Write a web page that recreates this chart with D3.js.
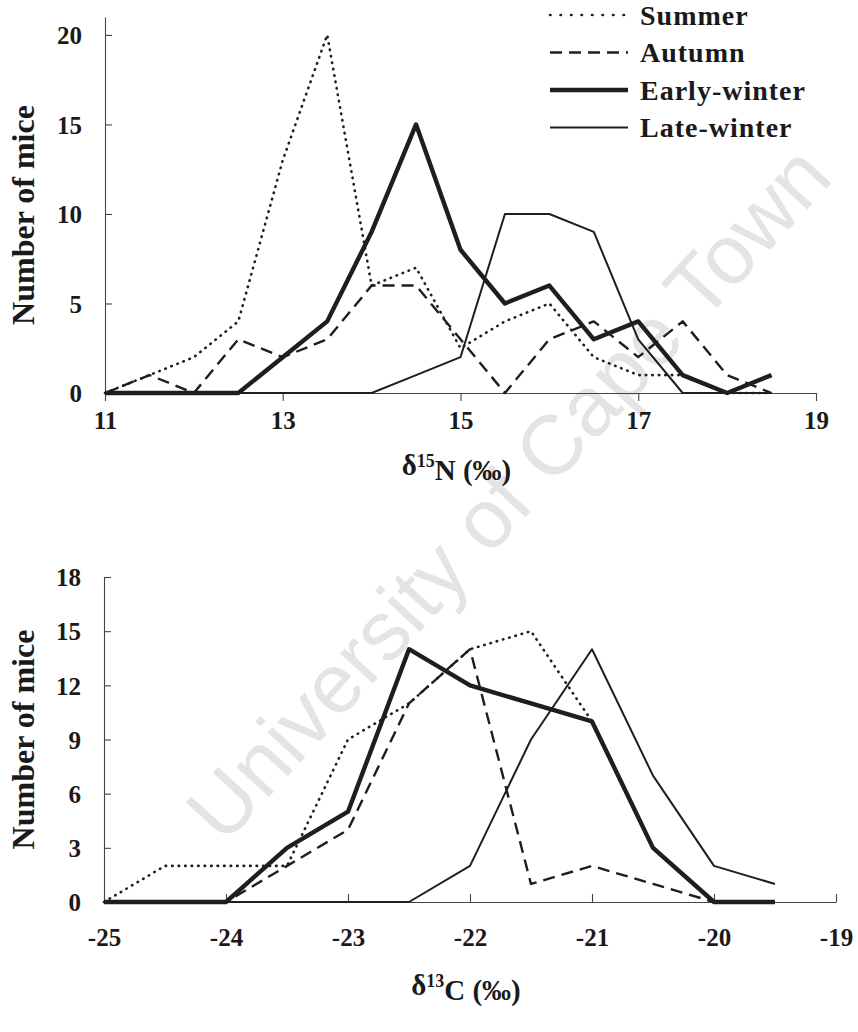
<!DOCTYPE html>
<html>
<head>
<meta charset="utf-8">
<script src="https://cdn.jsdelivr.net/npm/d3@7"></script>
<style>
  body { margin: 0; background: #fff; }
  svg text { font-family: "Liberation Serif", "Times New Roman", serif; font-weight: bold; fill: #1a1a1a; }
</style>
</head>
<body>
<script>
// δ15N panel (top)
var nX = [11, 11.5, 12, 12.5, 13, 13.5, 14, 14.5, 15, 15.5, 16, 16.5, 17, 17.5, 18, 18.5];
var nSummer = [0, 1, 2, 4, 13, 20, 6, 7, 2.5, 4, 5, 2, 1, 1, 0, 0];
var nAutumn = [0, 1, 0, 3, 2, 3, 6, 6, 3, 0, 3, 4, 2, 4, 1, 0];
var nEarly  = [0, 0, 0, 0, 2, 4, 9, 15, 8, 5, 6, 3, 4, 1, 0, 1];
var nLate   = [0, 0, 0, 0, 0, 0, 0, 1, 2, 10, 10, 9, 3, 0, 0, 0];
var nXTicks = [11, 13, 15, 17, 19];
var nYTicks = [0, 5, 10, 15, 20];

// δ13C panel (bottom)
var cX = [-25, -24.5, -24, -23.5, -23, -22.5, -22, -21.5, -21, -20.5, -20, -19.5];
var cSummer = [0, 2, 2, 2, 9, 11, 14, 15, 10, 3, 0, 0];
var cAutumn = [0, 0, 0, 2, 4, 11, 14, 1, 2, 1, 0, 0];
var cEarly  = [0, 0, 0, 3, 5, 14, 12, 11, 10, 3, 0, 0];
var cLate   = [0, 0, 0, 0, 0, 0, 2, 9, 14, 7, 2, 1];
var cXTicks = [-25, -24, -23, -22, -21, -20, -19];
var cYTicks = [0, 3, 6, 9, 12, 15, 18];

var seasons = ["Summer", "Autumn", "Early-winter", "Late-winter"];

// line look per season
var styles = {
  "Summer":       { w: 2.6, dash: "0.5 6", cap: "round" },
  "Autumn":       { w: 2.4, dash: "12 7", cap: "butt" },
  "Early-winter": { w: 4.4, dash: null, cap: "butt" },
  "Late-winter":  { w: 2, dash: null, cap: "butt" }
};

var svg = d3.select("body").append("svg")
    .attr("width", 858)
    .attr("height", 1032);

// watermark
svg.append("text")
    .attr("transform", "translate(224,846) rotate(-47.5)")
    .style("font-family", "'Liberation Sans', Arial, sans-serif")
    .style("font-weight", "normal")
    .style("font-size", "84px")
    .style("fill", "#e4e4e4")
    .text("University of Cape Town");

function drawPanel(opt) {
  var x = d3.scaleLinear().domain(opt.xDomain).range(opt.xRange);
  var y = d3.scaleLinear().domain(opt.yDomain).range(opt.yRange);
  var g = svg.append("g");

  // y axis, ticks pointing inward
  var yAxis = g.append("g")
      .attr("transform", "translate(" + opt.xRange[0] + ",0)")
      .call(d3.axisLeft(y).tickValues(opt.yTicks).tickSize(-7).tickSizeOuter(0).tickPadding(23));
  yAxis.selectAll("text").style("font-size", "25px").attr("dy", "0.35em");

  var xAxis = g.append("g")
      .attr("transform", "translate(0," + opt.yRange[0] + ")")
      .call(d3.axisBottom(x).tickValues(opt.xTicks).tickSize(opt.xTickLen).tickSizeOuter(0)
        .tickFormat(function(d) { return d < 0 ? "-" + Math.abs(d) : d; }));
  xAxis.selectAll("text").style("font-size", "25px").attr("y", opt.labelOff).attr("dy", "0.35em");

  g.selectAll(".domain, .tick line").attr("stroke", "#444").attr("stroke-width", 1.1);

  // axis titles
  g.append("text")
      .attr("transform", "translate(23," + ((opt.yRange[0] + opt.yRange[1]) / 2 + opt.yTitleShift) + ") rotate(-90)")
      .attr("text-anchor", "middle")
      .attr("dy", "0.35em")
      .style("font-size", "32px")
      .text("Number of mice");

  var t = g.append("text")
      .attr("x", (opt.xRange[0] + opt.xRange[1]) / 2 - 4)
      .attr("y", opt.yRange[0] + opt.titleOff)
      .attr("text-anchor", "middle")
      .attr("dy", "0.35em")
      .style("font-size", "29px");
  t.append("tspan").text("δ");
  t.append("tspan").attr("dy", "-0.45em").style("font-size", "18px").text(opt.iso);
  t.append("tspan").attr("dy", "0.45em").text(opt.elem + " (‰)");

  var line = d3.line()
      .x(function(d) { return x(d[0]); })
      .y(function(d) { return y(d[1]); });

  seasons.forEach(function(s, i) {
    var pts = opt.xs.map(function(v, j) { return [v, opt.series[i][j]]; });
    var st = styles[s];
    g.append("path")
        .datum(pts)
        .attr("d", line)
        .attr("fill", "none")
        .attr("stroke", "#1e1e1e")
        .attr("stroke-width", st.w)
        .attr("stroke-dasharray", st.dash)
        .attr("stroke-linecap", st.cap)
        .attr("stroke-linejoin", "round");
  });
}

drawPanel({
  xs: nX, series: [nSummer, nAutumn, nEarly, nLate],
  xDomain: [11, 19], xRange: [105, 816],
  yDomain: [0, 21], yRange: [393, 17],
  xTicks: nXTicks, yTicks: nYTicks, xTickLen: 8,
  labelOff: 27, titleOff: 72,
  iso: "15", elem: "N", yTitleShift: 10
});

drawPanel({
  xs: cX, series: [cSummer, cAutumn, cEarly, cLate],
  xDomain: [-25, -19], xRange: [104, 836],
  yDomain: [0, 18], yRange: [902, 577],
  xTicks: cXTicks, yTicks: cYTicks, xTickLen: -8,
  labelOff: 35, titleOff: 83,
  iso: "13", elem: "C", yTitleShift: 0
});

// legend
var legend = svg.append("g");
seasons.forEach(function(s, i) {
  var ly = 15 + i * 37.5;
  var st = styles[s];
  legend.append("line")
      .attr("x1", 550).attr("x2", 628)
      .attr("y1", ly).attr("y2", ly)
      .attr("stroke", "#1e1e1e")
      .attr("stroke-width", st.w)
      .attr("stroke-dasharray", s === "Summer" ? "0.5 10" : st.dash)
      .attr("stroke-linecap", st.cap);
  legend.append("text")
      .attr("x", 640).attr("y", ly)
      .attr("dy", "0.35em")
      .style("font-size", "28px")
      .style("letter-spacing", "1px")
      .text(s);
});
</script>
</body>
</html>
